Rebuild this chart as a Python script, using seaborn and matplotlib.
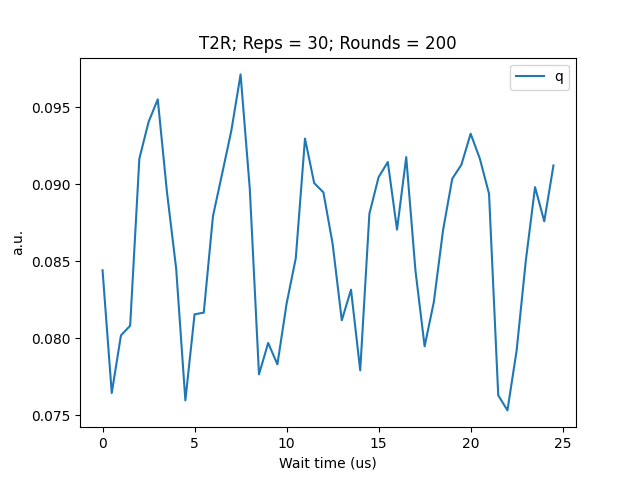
import matplotlib
matplotlib.use("Agg")
import matplotlib.pyplot as plt
import seaborn as sns
import pandas as pd

# wait times in us
wait_us = [0.0, 0.5, 1.0, 1.5, 2.0, 2.5, 3.0, 3.5, 4.0, 4.5,
           5.0, 5.5, 6.0, 6.5, 7.0, 7.5, 8.0, 8.5, 9.0, 9.5,
           10.0, 10.5, 11.0, 11.5, 12.0, 12.5, 13.0, 13.5, 14.0, 14.5,
           15.0, 15.5, 16.0, 16.5, 17.0, 17.5, 18.0, 18.5, 19.0, 19.5,
           20.0, 20.5, 21.0, 21.5, 22.0, 22.5, 23.0, 23.5, 24.0, 24.5]

# signal (a.u.)
q_vals = [0.08442, 0.07645, 0.08019, 0.08082, 0.09167, 0.09405, 0.09552, 0.0895, 0.08453, 0.07597,
          0.08156, 0.08167, 0.08794, 0.0907, 0.0935, 0.09714, 0.08972, 0.07766, 0.07970, 0.07831,
          0.08225, 0.08521, 0.09297, 0.09008, 0.08948, 0.08615, 0.08117, 0.08316, 0.07792, 0.08810,
          0.09047, 0.09145, 0.08706, 0.09177, 0.08442, 0.07948, 0.08236, 0.08701, 0.09036, 0.09128,
          0.09329, 0.09167, 0.08939, 0.07630, 0.07532, 0.07922, 0.08506, 0.08982, 0.08760, 0.09123]

df = pd.DataFrame({"wait": wait_us, "q": q_vals})

fig, ax = plt.subplots(figsize=(6.4, 4.8), dpi=100)
sns.lineplot(ax=ax, data=df, x="wait", y="q", label="q")
ax.set_title("T2R; Reps = 30; Rounds = 200")
ax.set_xlabel("Wait time (us)")
ax.set_ylabel("a.u.")
ax.legend(loc="upper right")

fig.savefig("out.png")
